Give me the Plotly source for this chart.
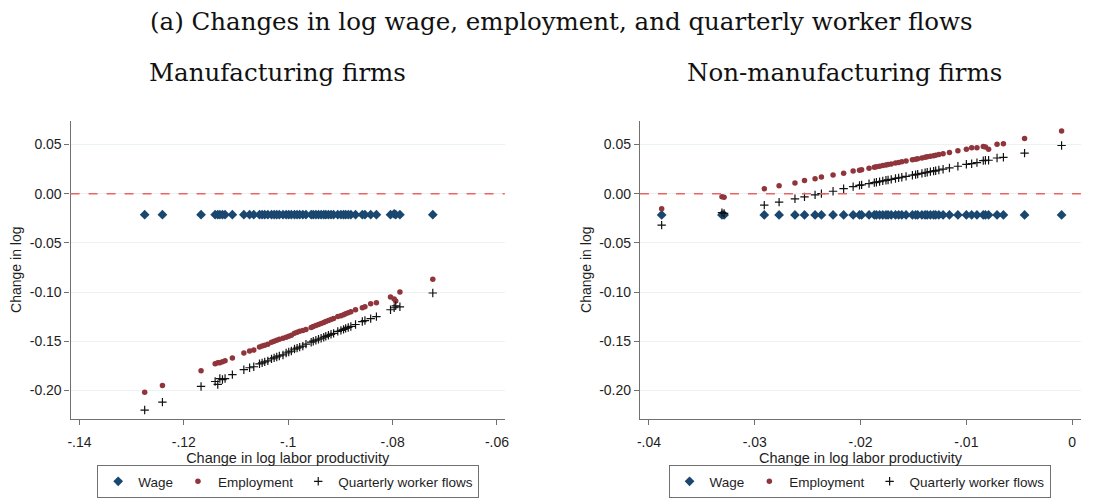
import plotly.graph_objects as go

# ---------------- Data ----------------
man_x = [-0.1275, -0.1241, -0.1167, -0.1140, -0.1135, -0.1131, -0.1126, -0.1121, -0.1107,
         -0.1085, -0.1074, -0.1066, -0.1055, -0.1050, -0.1045, -0.1039, -0.1032, -0.1027,
         -0.1022, -0.1017, -0.1010, -0.1004, -0.0999, -0.0994, -0.0988, -0.0983, -0.0978,
         -0.0972, -0.0966, -0.0956, -0.0952, -0.0947, -0.0942, -0.0937, -0.0932, -0.0928,
         -0.0923, -0.0918, -0.0913, -0.0905, -0.0899, -0.0894, -0.0890, -0.0885, -0.0880,
         -0.0871, -0.0858, -0.0853, -0.0842, -0.0831, -0.0804, -0.0797, -0.0794, -0.0786,
         -0.0723]
man_wage = [-0.0213] * 51 + [-0.0205, -0.0213, -0.0213, -0.0213]
man_emp = [-0.202, -0.195, -0.180, -0.173, -0.172, -0.172, -0.171, -0.170, -0.167,
           -0.162, -0.160, -0.159, -0.156, -0.155, -0.154, -0.153, -0.151, -0.150,
           -0.149, -0.148, -0.147, -0.146, -0.145, -0.144, -0.142, -0.141, -0.140,
           -0.139, -0.138, -0.136, -0.135, -0.134, -0.133, -0.132, -0.131, -0.130,
           -0.129, -0.128, -0.127, -0.125, -0.124, -0.123, -0.122, -0.121, -0.120,
           -0.118, -0.116, -0.115, -0.112, -0.111, -0.105, -0.107, -0.109, -0.100,
           -0.087]
man_flow = [-0.220, -0.212, -0.196, -0.191, -0.194, -0.188, -0.189, -0.188, -0.184,
            -0.179, -0.177, -0.176, -0.173, -0.172, -0.171, -0.170, -0.168, -0.167,
            -0.166, -0.165, -0.164, -0.162, -0.161, -0.160, -0.158, -0.157, -0.156,
            -0.155, -0.153, -0.151, -0.150, -0.149, -0.148, -0.147, -0.146, -0.145,
            -0.144, -0.143, -0.142, -0.140, -0.139, -0.138, -0.137, -0.136, -0.135,
            -0.133, -0.130, -0.129, -0.127, -0.125, -0.118, -0.116, -0.114, -0.115,
            -0.101]

non_x = [-0.0388, -0.0331, -0.0329, -0.0291, -0.0277, -0.0262, -0.0253, -0.0243, -0.0237,
         -0.0226, -0.0216, -0.0207, -0.0201, -0.0199, -0.0192, -0.0187, -0.0185, -0.0182,
         -0.0179, -0.0176, -0.0174, -0.0171, -0.0167, -0.0164, -0.0161, -0.0157, -0.0151,
         -0.0148, -0.0146, -0.0142, -0.0139, -0.0137, -0.0134, -0.0131, -0.0129, -0.0126,
         -0.0122, -0.0116, -0.0108, -0.0100, -0.0095, -0.0090, -0.0084, -0.0082, -0.0079,
         -0.0071, -0.0065, -0.0045, -0.0010]
non_wage = [-0.0216] * 49
non_emp = [-0.0153, -0.0032, -0.0035, 0.0051, 0.0081, 0.0108, 0.0135, 0.0152, 0.0169,
           0.0189, 0.0209, 0.0232, 0.0239, 0.0243, 0.0259, 0.0270, 0.0274, 0.0280,
           0.0287, 0.0293, 0.0297, 0.0303, 0.0312, 0.0318, 0.0324, 0.0333, 0.0345,
           0.0351, 0.0356, 0.0364, 0.0370, 0.0375, 0.0381, 0.0387, 0.0391, 0.0398,
           0.0406, 0.0419, 0.0437, 0.0453, 0.0467, 0.0467, 0.0480, 0.0476, 0.0453,
           0.0503, 0.0507, 0.0560, 0.0637]
non_flow = [-0.0320, -0.0193, -0.0200, -0.0116, -0.0086, -0.0052, -0.0032, -0.0012, 0.0001,
            0.0025, 0.0051, 0.0072, 0.0085, 0.0090, 0.0102, 0.0113, 0.0117, 0.0123,
            0.0130, 0.0136, 0.0140, 0.0146, 0.0155, 0.0161, 0.0167, 0.0176, 0.0188,
            0.0194, 0.0199, 0.0207, 0.0213, 0.0218, 0.0224, 0.0230, 0.0234, 0.0241,
            0.0249, 0.0262, 0.0279, 0.0299, 0.0305, 0.0316, 0.0336, 0.0340, 0.0340,
            0.0363, 0.0370, 0.0413, 0.0490]

y_ticks = [0.05, 0.00, -0.05, -0.10, -0.15, -0.20]
y_ticktext = ["0.05", "0.00", "-0.05", "-0.10", "-0.15", "-0.20"]
man_xticks = [-0.14, -0.12, -0.10, -0.08, -0.06]
man_xticktext = ["-.14", "-.12", "-.1", "-.08", "-.06"]
non_xticks = [-0.04, -0.03, -0.02, -0.01, 0.0]
non_xticktext = ["-.04", "-.03", "-.02", "-.01", "0"]

series_names = ["Wage", "Employment", "Quarterly worker flows"]

# ---------------- Styles ----------------
NAVY = "#1a476f"
MAROON = "#90353b"
BLACK = "#111111"
AXIS = "#707070"
GRID = "#eaf2f3"
TXT = "#1e1e1e"
SANS = "Liberation Sans, Arial, sans-serif"
SERIF = "DejaVu Serif, serif"

fig = go.Figure()


def add_panel(xs, wage, emp, flow, xa, ya, legend):
    fig.add_trace(go.Scatter(x=xs, y=wage, mode="markers", name=series_names[0],
                             xaxis=xa, yaxis=ya, legend=legend,
                             marker=dict(symbol="diamond", size=7.5, color=NAVY)))
    fig.add_trace(go.Scatter(x=xs, y=emp, mode="markers", name=series_names[1],
                             xaxis=xa, yaxis=ya, legend=legend,
                             marker=dict(symbol="circle", size=5.5, color=MAROON)))
    fig.add_trace(go.Scatter(x=xs, y=flow, mode="markers", name=series_names[2],
                             xaxis=xa, yaxis=ya, legend=legend,
                             marker=dict(symbol="cross-thin", size=6,
                                         line=dict(color=BLACK, width=1.2))))


add_panel(man_x, man_wage, man_emp, man_flow, "x", "y", "legend")
add_panel(non_x, non_wage, non_emp, non_flow, "x2", "y2", "legend2")

W, H = 1111, 498
ydom = [1 - 424 / H, 1 - 122 / H]

xaxis_common = dict(showline=True, linecolor=AXIS, linewidth=1.2, ticks="outside",
                    ticklen=5, tickcolor=AXIS, showgrid=False, zeroline=False,
                    ticklabelstandoff=5,
                    tickfont=dict(family=SANS, size=14, color=TXT),
                    title=dict(text="Change in log labor productivity", standoff=0,
                               font=dict(family=SANS, size=14.5, color=TXT)))
yaxis_common = dict(showline=True, linecolor=AXIS, linewidth=1.2, ticks="outside",
                    ticklen=5, tickcolor=AXIS, showgrid=True, gridcolor=GRID,
                    gridwidth=1, zeroline=False, range=[-0.229, 0.0744],
                    tickvals=y_ticks, ticktext=y_ticktext,
                    tickfont=dict(family=SANS, size=14, color=TXT),
                    title=dict(text="Change in log", standoff=4,
                               font=dict(family=SANS, size=14, color=TXT)))

legend_common = dict(orientation="h", xanchor="center", y=1 - 471 / H, yanchor="top",
                     bordercolor=AXIS, borderwidth=1, itemsizing="trace",
                     font=dict(family=SANS, size=13.5, color=TXT),
                     tracegroupgap=0, itemwidth=30)

fig.update_layout(
    width=W, height=H, margin=dict(l=0, r=0, t=0, b=0),
    paper_bgcolor="white", plot_bgcolor="white",
    xaxis=dict(xaxis_common, domain=[68 / W, 505 / W], range=[-0.1417, -0.0585],
               tickvals=man_xticks, ticktext=man_xticktext, anchor="y"),
    yaxis=dict(yaxis_common, domain=ydom, anchor="x"),
    xaxis2=dict(xaxis_common, domain=[641 / W, 1085 / W], range=[-0.04085, 0.00085],
                tickvals=non_xticks, ticktext=non_xticktext, anchor="y2"),
    yaxis2=dict(yaxis_common, domain=ydom, anchor="x2"),
    legend=dict(legend_common, x=287 / W),
    legend2=dict(legend_common, x=862 / W),
    shapes=[
        dict(type="line", xref="x domain", yref="y", x0=0, x1=1, y0=0, y1=0,
             line=dict(color="#f06262", width=1.5, dash="dash")),
        dict(type="line", xref="x2 domain", yref="y2", x0=0, x1=1, y0=0, y1=0,
             line=dict(color="#f06262", width=1.5, dash="dash")),
    ],
    annotations=[
        dict(text="(a) Changes in log wage, employment, and quarterly worker flows",
             xref="paper", yref="paper", x=562 / W, y=1 - 22 / H, xanchor="center",
             yanchor="middle", showarrow=False, font=dict(family=SERIF, size=24.5, color="#111")),
        dict(text="Manufacturing firms", xref="paper", yref="paper", x=276 / W,
             y=1 - 73 / H, xanchor="center", yanchor="middle", showarrow=False,
             font=dict(family=SERIF, size=24.5, color="#111")),
        dict(text="Non-manufacturing firms", xref="paper", yref="paper", x=847 / W,
             y=1 - 73 / H, xanchor="center", yanchor="middle", showarrow=False,
             font=dict(family=SERIF, size=24.5, color="#111")),
    ],
)

fig.write_html("out.html", config={"displayModeBar": False},
               post_script="document.body.style.margin='0px';")
